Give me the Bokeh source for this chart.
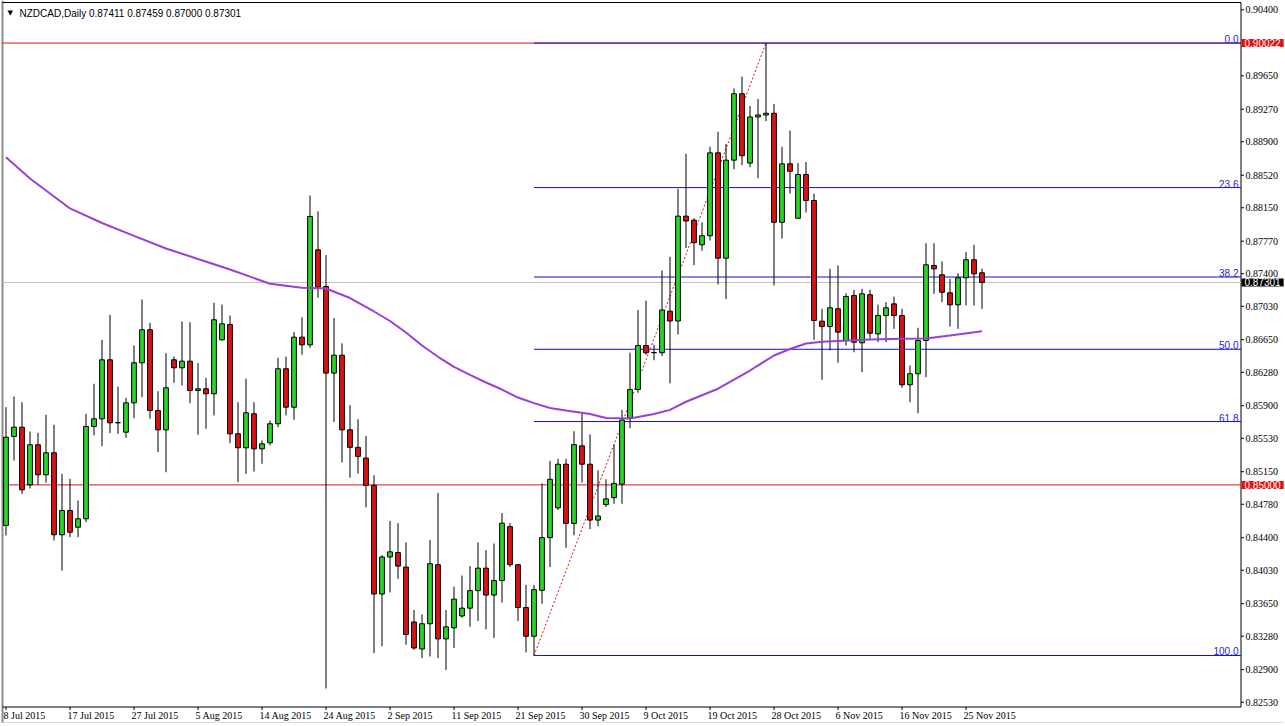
from bokeh.plotting import figure
from bokeh.models import ColumnDataSource, Range1d, Label, LabelSet
from bokeh.embed import file_html
from bokeh.resources import INLINE

# ---------------- data (NZDCAD daily, 8 Jul 2015 .. 27 Nov 2015) ----------------
opens = [
    0.84539, 0.85550, 0.85656, 0.85001, 0.85456, 0.85115, 0.85365, 0.84433, 0.84709, 0.84519,
    0.84615, 0.85664, 0.85751, 0.86422, 0.85708, 0.85599, 0.85933, 0.86388, 0.86763, 0.85846,
    0.85626, 0.86422, 0.86331, 0.86406, 0.86073, 0.86092, 0.86036, 0.86649, 0.86823, 0.85581,
    0.85422, 0.85808, 0.85410, 0.85479, 0.85695, 0.86320, 0.85883, 0.86679, 0.86592, 0.87672,
    0.87255, 0.86271, 0.86474, 0.85626, 0.85427, 0.85305, 0.84994, 0.83760, 0.84181, 0.84231,
    0.84066, 0.83442, 0.83135, 0.83422, 0.84093, 0.83250, 0.83376, 0.83510, 0.83599, 0.83798,
    0.84054, 0.83748, 0.83913, 0.84526, 0.84093, 0.83607, 0.83280, 0.83802, 0.84401, 0.84739,
    0.85235, 0.84562, 0.85444, 0.85235, 0.84600, 0.84776, 0.84855, 0.85008, 0.85759, 0.86084,
    0.86584, 0.86505, 0.86502, 0.86974, 0.86863, 0.88055, 0.88009, 0.87730, 0.87832, 0.88774,
    0.87577, 0.88691, 0.89446, 0.88658, 0.89182, 0.89204, 0.89224, 0.87985, 0.88649, 0.88031,
    0.88528, 0.88233, 0.86861, 0.86800, 0.87002, 0.86641, 0.87153, 0.86615, 0.87161, 0.86717,
    0.86925, 0.87058, 0.86925, 0.86138, 0.86263, 0.86641, 0.87494, 0.87388, 0.87183, 0.87047,
    0.87354, 0.87559, 0.87411]
highs = [
    0.85883, 0.86005, 0.85940, 0.85607, 0.85592, 0.85797, 0.85683, 0.85126, 0.85069, 0.84823,
    0.85808, 0.86149, 0.86649, 0.86933, 0.86118, 0.85990, 0.86584, 0.87107, 0.86842, 0.86065,
    0.86497, 0.86459, 0.86857, 0.86849, 0.86383, 0.86217, 0.87070, 0.87050, 0.86925, 0.85940,
    0.86206, 0.85940, 0.85505, 0.85732, 0.86445, 0.86459, 0.86736, 0.86906, 0.88289, 0.88108,
    0.87612, 0.86896, 0.86608, 0.85906, 0.85746, 0.85554, 0.85109, 0.84200, 0.84591, 0.84565,
    0.84347, 0.83579, 0.83529, 0.84373, 0.84909, 0.83579, 0.83844, 0.83970, 0.84077, 0.84347,
    0.84258, 0.84334, 0.84680, 0.84565, 0.84100, 0.83863, 0.83863, 0.85017, 0.85273, 0.85296,
    0.85296, 0.85610, 0.85815, 0.85574, 0.85166, 0.85064, 0.85458, 0.85853, 0.86502, 0.86988,
    0.87095, 0.86594, 0.87438, 0.87592, 0.88366, 0.88764, 0.88031, 0.87985, 0.88843, 0.89015,
    0.88876, 0.89507, 0.89641, 0.89307, 0.89386, 0.90022, 0.89330, 0.88843, 0.89028, 0.88658,
    0.88670, 0.88309, 0.87002, 0.87456, 0.87494, 0.87179, 0.87218, 0.87229, 0.87218, 0.87050,
    0.87077, 0.87141, 0.87002, 0.86357, 0.86786, 0.87747, 0.87747, 0.87539, 0.87343, 0.87406,
    0.87645, 0.87729, 0.87459]
lows = [
    0.84425, 0.85277, 0.84899, 0.84959, 0.85001, 0.85024, 0.84368, 0.84027, 0.84406, 0.84406,
    0.84576, 0.85562, 0.85440, 0.85588, 0.85581, 0.85535, 0.85758, 0.85997, 0.85751, 0.85372,
    0.85144, 0.86161, 0.86130, 0.85929, 0.85569, 0.85638, 0.85789, 0.86640, 0.85474, 0.85031,
    0.85126, 0.85152, 0.85240, 0.85448, 0.85656, 0.85789, 0.85740, 0.86479, 0.86558, 0.87127,
    0.82686, 0.85715, 0.85255, 0.85082, 0.85128, 0.84744, 0.83088, 0.83166, 0.83778, 0.83932,
    0.83185, 0.83127, 0.83031, 0.83050, 0.83031, 0.82897, 0.83146, 0.83491, 0.83387, 0.83453,
    0.83357, 0.83261, 0.83663, 0.84066, 0.83453, 0.83096, 0.83061, 0.83650, 0.84067, 0.84716,
    0.84285, 0.84428, 0.85026, 0.84498, 0.84531, 0.84749, 0.84785, 0.84785, 0.85643, 0.86047,
    0.86478, 0.86417, 0.86464, 0.86154, 0.86710, 0.87693, 0.87498, 0.87661, 0.87777, 0.87280,
    0.87113, 0.88588, 0.88635, 0.88611, 0.88486, 0.89135, 0.87266, 0.87800, 0.88310, 0.88028,
    0.88096, 0.86649, 0.86195, 0.86528, 0.86388, 0.86584, 0.86508, 0.86281, 0.86661, 0.86622,
    0.86622, 0.86774, 0.86104, 0.85940, 0.85815, 0.86224, 0.87172, 0.87077, 0.86800, 0.86774,
    0.87039, 0.87039, 0.87000]
closes = [
    0.85542, 0.85656, 0.84944, 0.85456, 0.85115, 0.85365, 0.84433, 0.84709, 0.84462, 0.84615,
    0.85664, 0.85751, 0.86422, 0.85706, 0.85706, 0.85933, 0.86388, 0.86763, 0.85846, 0.85626,
    0.86104, 0.86331, 0.86406, 0.86073, 0.86092, 0.86036, 0.86877, 0.86831, 0.85581, 0.85422,
    0.85820, 0.85410, 0.85467, 0.85695, 0.86320, 0.85883, 0.86679, 0.86592, 0.88051, 0.87247,
    0.86271, 0.86474, 0.85626, 0.85427, 0.85324, 0.84994, 0.83760, 0.84181, 0.84239, 0.84077,
    0.83300, 0.83146, 0.83422, 0.84104, 0.83250, 0.83387, 0.83702, 0.83599, 0.83798, 0.84054,
    0.83748, 0.83913, 0.84565, 0.84093, 0.83607, 0.83280, 0.83809, 0.84401, 0.85064, 0.85235,
    0.84562, 0.85458, 0.85235, 0.84600, 0.84647, 0.84841, 0.85017, 0.85737, 0.86084, 0.86584,
    0.86502, 0.86502, 0.86988, 0.86863, 0.88055, 0.88000, 0.87753, 0.87832, 0.88774, 0.87577,
    0.88691, 0.89446, 0.88741, 0.89182, 0.89204, 0.89224, 0.87985, 0.88649, 0.88564, 0.88528,
    0.88233, 0.86869, 0.86800, 0.87013, 0.86736, 0.87141, 0.86622, 0.87172, 0.86724, 0.86925,
    0.87013, 0.86925, 0.86138, 0.86263, 0.86641, 0.87502, 0.87456, 0.87190, 0.87047, 0.87354,
    0.87559, 0.87399, 0.87301]

# moving average (at selected bars)
ma_bars = [0, 3, 8, 12, 16, 20, 24, 28, 33, 37, 40, 43, 46, 48, 50, 52, 54, 56, 58, 60,
           62, 64, 66, 68, 70, 73, 75, 78, 81, 83, 85, 89, 93, 96, 98, 100, 102, 104,
           108, 112, 115, 118, 122]
ma_values = [0.88725, 0.88483, 0.88142, 0.87977, 0.87831, 0.87687, 0.87568, 0.87448, 0.87286,
             0.87240, 0.87232, 0.87124, 0.86971, 0.86863, 0.86732, 0.86584, 0.86456, 0.86342,
             0.86251, 0.86164, 0.86084, 0.85993, 0.85929, 0.85874, 0.85846, 0.85806, 0.85760,
             0.85755, 0.85806, 0.85853, 0.85945, 0.86093, 0.86300, 0.86471, 0.86545, 0.86607,
             0.86628, 0.86636, 0.86653, 0.86661, 0.86664, 0.86698, 0.86747]

date_bars = [0, 8, 16, 24, 32, 40, 48, 56, 64, 72, 80, 88, 96, 104, 112, 120]
date_labels = ["8 Jul 2015", "17 Jul 2015", "27 Jul 2015", "5 Aug 2015", "14 Aug 2015",
               "24 Aug 2015", "2 Sep 2015", "11 Sep 2015", "21 Sep 2015", "30 Sep 2015",
               "9 Oct 2015", "19 Oct 2015", "28 Oct 2015", "6 Nov 2015", "16 Nov 2015",
               "25 Nov 2015"]

price_ticks = [0.82530, 0.82900, 0.83280, 0.83650, 0.84030, 0.84400, 0.84780, 0.85150,
               0.85530, 0.85900, 0.86280, 0.86650, 0.87030, 0.87400, 0.87770, 0.88150,
               0.88520, 0.88900, 0.89270, 0.89650, 0.90400]

hline_levels = [0.90022, 0.85000]
last_price = 0.87301
fib_low_bar = 66
fib_high_bar = 95
fib_ratios = [0.0, 23.6, 38.2, 50.0, 61.8, 100.0]
title_text = "NZDCAD,Daily  0.87411 0.87459 0.87000 0.87301"

assert len(opens) == len(highs) == len(lows) == len(closes)

# ---------------- chart geometry (MetaTrader-like window) ----------------
W, H = 1285, 726
BAR0_PX, BAR_PX = 5.5, 8.0            # screen x of bar 0, pixels per bar
PRICE_AT_TOP, PRICE_PER_PX = 0.905057, 0.00011366
FRAME_L, FRAME_T, FRAME_R, FRAME_B = 2.0, 2.0, 1240.5, 706.5


def bx(px):
    return (px - BAR0_PX) / BAR_PX


def pyv(py):
    return PRICE_AT_TOP - py * PRICE_PER_PX


FONT = "Liberation Sans"
GREEN = "#2ad22a"
RED = "#d81414"
FIB = "#1010d8"
LINE_RED = "#e31010"

n = len(closes)
idx = list(range(n))
src = ColumnDataSource(dict(
    x=idx, h=highs, l=lows,
    top=[max(o, c) for o, c in zip(opens, closes)],
    bottom=[min(o, c) for o, c in zip(opens, closes)],
    color=[GREEN if c >= o else RED for o, c in zip(opens, closes)],
))

p = figure(width=W, height=H, x_range=Range1d(bx(0), bx(W)), y_range=Range1d(pyv(H), pyv(0)),
           output_backend="svg", toolbar_location=None,
           x_axis_location=None, y_axis_location=None,
           min_border_left=0, min_border_right=0, min_border_top=0, min_border_bottom=0)
p.background_fill_color = "white"
p.border_fill_color = "white"
p.outline_line_color = None
p.xgrid.visible = False
p.ygrid.visible = False

# window / frame borders
p.segment(x0=[bx(0)], x1=[bx(1283)], y0=[pyv(722)], y1=[pyv(722)], line_color="#dcdcdc", line_width=1)
p.segment(x0=[bx(FRAME_L)], x1=[bx(FRAME_L)], y0=[pyv(0)], y1=[pyv(722)], line_color="#8c8c8c", line_width=2)
p.segment(x0=[bx(FRAME_L), bx(FRAME_R), bx(FRAME_L)],
          x1=[bx(FRAME_R), bx(FRAME_R), bx(FRAME_R)],
          y0=[pyv(FRAME_T), pyv(FRAME_T), pyv(FRAME_B)],
          y1=[pyv(FRAME_T), pyv(FRAME_B), pyv(FRAME_B)],
          line_color="black", line_width=1)

# price axis ticks + labels (right)
p.segment(x0=[bx(FRAME_R)] * len(price_ticks), x1=[bx(FRAME_R + 3)] * len(price_ticks),
          y0=price_ticks, y1=price_ticks, line_color="black", line_width=1)
tick_src = ColumnDataSource(dict(y=price_ticks, text=[f"{t:.5f}" for t in price_ticks]))
p.add_layout(LabelSet(x=FRAME_R + 4.5, x_units="screen", y="y", y_units="data", text="text",
                      source=tick_src, text_align="left", text_baseline="middle",
                      text_font=FONT, text_font_size="10px", text_color="black"))

# date axis ticks + labels (bottom)
p.segment(x0=date_bars, x1=date_bars, y0=[pyv(FRAME_B)] * len(date_bars),
          y1=[pyv(FRAME_B + 3)] * len(date_bars), line_color="black", line_width=1)
date_src = ColumnDataSource(dict(x=date_bars, text=date_labels))
p.add_layout(LabelSet(x="x", y=H - 709, y_units="screen", text="text", source=date_src,
                      x_offset=-2.5, text_align="left", text_baseline="top",
                      text_font=FONT, text_font_size="10px", text_color="black"))

# horizontal lines (current price, support/resistance)
p.segment(x0=[bx(FRAME_L)], x1=[bx(FRAME_R)], y0=[last_price], y1=[last_price],
          line_color="#c0c0c0", line_width=1)
p.segment(x0=[bx(FRAME_L)] * len(hline_levels), x1=[bx(FRAME_R)] * len(hline_levels),
          y0=hline_levels, y1=hline_levels, line_color=LINE_RED, line_width=1)

# fibonacci retracement
fib_low = lows[fib_low_bar]
fib_high = highs[fib_high_bar]
fib_levels = [fib_high - r / 100.0 * (fib_high - fib_low) for r in fib_ratios]
p.segment(x0=[fib_low_bar] * len(fib_levels), x1=[bx(FRAME_R)] * len(fib_levels),
          y0=fib_levels, y1=fib_levels, line_color=FIB, line_width=1)
for r, lv in zip(fib_ratios, fib_levels):
    p.add_layout(Label(x=FRAME_R - 2.5, x_units="screen", y=lv, y_units="data",
                       text=f"{r:.1f}", text_align="right", text_baseline="bottom",
                       text_font=FONT, text_font_size="10px", text_color="#2424c8"))

# fib trend line
p.line([fib_low_bar, fib_high_bar], [fib_low, fib_high], line_color=LINE_RED,
       line_width=1, line_dash="2 2")

# candles
p.segment(x0="x", x1="x", y0="l", y1="h", source=src, line_color="black", line_width=1)
p.vbar(x="x", width=0.6, top="top", bottom="bottom", source=src,
       fill_color="color", line_color="black", line_width=1)

# moving average
p.line(ma_bars, ma_values, line_color="#9b3fd6", line_width=2)


# price tags on the axis
def tag(level, bg):
    lab = Label(x=FRAME_R + 0.5, x_units="screen", y=level, y_units="data",
                text=f"{level:.5f}", text_align="left", text_baseline="middle",
                text_font=FONT, text_font_size="10px", text_color="white",
                background_fill_color=bg)
    try:
        lab.padding = dict(left=3, right=3, top=0, bottom=0)
    except Exception:
        try:
            lab.padding = 2
        except Exception:
            pass
    p.add_layout(lab)


tag(hline_levels[0], "#e80f0f")
tag(last_price, "black")
tag(hline_levels[1], "#e80f0f")

# chart title
p.add_layout(Label(x=7, x_units="screen", y=H - 12.5, y_units="screen", text="▼",
                   text_align="left", text_baseline="middle", text_font="DejaVu Sans",
                   text_font_size="7px", text_color="black"))
p.add_layout(Label(x=19, x_units="screen", y=H - 13, y_units="screen", text=title_text,
                   text_align="left", text_baseline="middle", text_font=FONT,
                   text_font_size="10px", text_color="black"))

open("out.html", "w").write(file_html(p, INLINE))
